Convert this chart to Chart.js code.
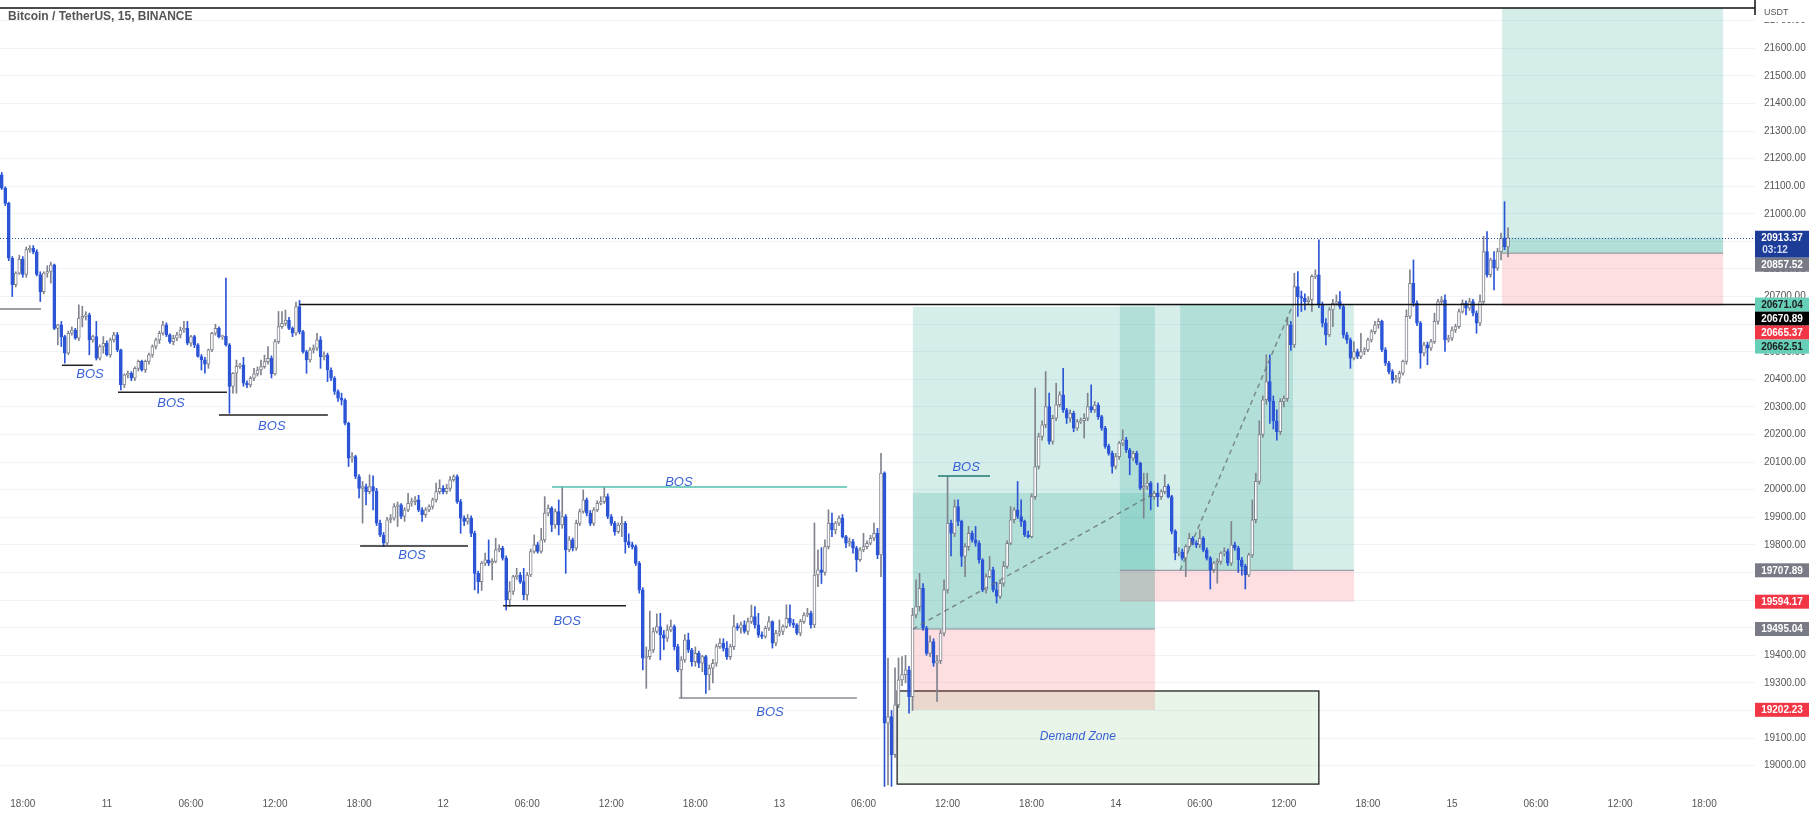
<!DOCTYPE html>
<html>
<head>
<meta charset="utf-8">
<title>BTCUSDT 15</title>
<script src="https://cdn.jsdelivr.net/npm/chart.js"></script>
<style>
  html, body { margin: 0; padding: 0; background: #fff; }
  #wrap { width: 1814px; height: 818px; }
</style>
</head>
<body>
<div id="wrap"><canvas id="chart" width="1814" height="818"></canvas></div>
<script>
// 15 minute candles, first one is Oct 10 16:30
const opens = [
21141,21093,21038,20839,20743,20785,20835,20780,20870,20875,
20862,20780,20718,20785,20791,20815,20585,20598,20555,20495,
20567,20579,20549,20622,20628,20634,20543,20555,20477,20519,
20531,20489,20543,20561,20507,20380,20416,20422,20404,20440,
20465,20434,20465,20489,20519,20543,20567,20598,20561,20537,
20549,20561,20579,20585,20531,20555,20525,20483,20471,20455,
20507,20567,20585,20555,20557,20525,20374,20422,20447,20453,
20386,20380,20404,20420,20434,20446,20464,20476,20420,20537,
20591,20603,20615,20585,20567,20664,20573,20500,20470,20507,
20513,20543,20482,20488,20434,20404,20356,20332,20325,20241,
20114,20120,20048,20005,20011,19993,20011,19995,19879,19836,
19806,19891,19897,19939,19945,19903,19927,19951,19957,19963,
19927,19910,19927,19939,19963,19993,20005,19993,20005,20036,
20048,19957,19897,19885,19897,19842,19697,19667,19734,19746,
19734,19740,19782,19788,19752,19601,19631,19685,19690,19667,
19619,19691,19776,19800,19776,19818,19915,19933,19872,19921,
19872,19903,19782,19818,19788,19878,19921,19963,19915,19878,
19927,19951,19957,19975,19903,19878,19848,19872,19878,19812,
19800,19794,19733,19637,19389,19395,19419,19486,19504,19474,
19462,19492,19504,19431,19347,19383,19456,19419,19377,19407,
19371,19395,19329,19353,19371,19431,19444,19425,19395,19431,
19504,19498,19510,19486,19522,19540,19510,19474,19468,19498,
19522,19444,19480,19486,19504,19534,19516,19510,19480,19522,
19546,19552,19510,19691,19710,19700,19794,19879,19854,19879,
19897,19830,19806,19812,19788,19746,19782,19794,19806,19824,
19842,19764,20060,19154,19178,19040,19220,19311,19330,19347,
19250,19546,19576,19643,19498,19407,19450,19371,19380,19480,
19637,19879,19842,19939,19885,19758,19794,19842,19818,19806,
19746,19637,19685,19710,19637,19613,19661,19722,19806,19891,
19927,19903,19885,19836,19830,19975,20084,20193,20235,20301,
20175,20259,20308,20344,20289,20259,20277,20223,20247,20250,
20259,20301,20289,20307,20265,20223,20157,20132,20084,20120,
20169,20181,20144,20114,20132,20096,20006,20012,20024,19975,
19987,19975,19993,20012,19975,19849,19770,19775,19752,19794,
19824,19806,19800,19824,19782,19752,19710,19734,19740,19770,
19776,19734,19800,19788,19746,19722,19691,19764,19891,20030,
20200,20326,20392,20320,20250,20210,20320,20330,20598,20525,
20736,20700,20694,20682,20688,20773,20779,20670,20604,20561,
20652,20676,20682,20664,20561,20543,20477,20501,20483,20501,
20507,20543,20573,20598,20610,20507,20459,20428,20398,20404,
20422,20465,20628,20748,20676,20604,20495,20525,20513,20537,
20610,20682,20688,20543,20549,20579,20591,20646,20676,20658,
20682,20640,20604,20682,20863,20779,20833,20803,20863,20912,
20880];
const highs = [
21150,21098,21042,20845,20790,20850,20845,20880,20885,20885,
20870,20790,20790,20812,20825,20818,20600,20610,20560,20575,
20590,20585,20670,20665,20645,20640,20560,20610,20525,20555,
20540,20550,20570,20570,20510,20420,20430,20428,20445,20470,
20470,20470,20495,20525,20550,20575,20610,20605,20565,20560,
20570,20590,20610,20610,20560,20560,20530,20490,20480,20510,
20570,20600,20590,20560,20767,20530,20425,20470,20458,20480,
20395,20410,20440,20445,20470,20488,20519,20485,20545,20646,
20646,20651,20625,20590,20680,20686,20578,20505,20515,20525,
20567,20555,20500,20495,20442,20410,20362,20350,20330,20245,
20135,20125,20055,20030,20020,20054,20050,20005,19890,19845,
19900,19910,19950,19955,19950,19935,19987,19970,19975,19980,
19935,19935,19945,19970,20024,20036,20015,20020,20048,20054,
20054,19965,19905,19910,19905,19850,19705,19740,19770,19818,
19750,19824,19800,19795,19760,19667,19690,19715,19700,19715,
19700,19785,19836,19810,19860,19975,19945,19939,19930,19963,
20011,19910,19830,19825,19890,19930,19999,19970,19925,19935,
19960,19975,20009,19985,19910,19885,19880,19903,19885,19840,
19810,19800,19740,19645,19430,19560,19500,19550,19552,19490,
19510,19528,19510,19440,19395,19475,19480,19425,19430,19415,
19400,19400,19365,19385,19440,19460,19460,19450,19440,19546,
19515,19520,19525,19535,19582,19576,19552,19485,19505,19540,
19525,19490,19528,19510,19583,19583,19530,19515,19530,19555,
19570,19560,19879,19782,19790,19818,19927,19915,19885,19905,
19910,19835,19825,19820,19795,19790,19842,19815,19835,19879,
19860,20132,20065,19390,19200,19354,19390,19395,19400,19360,
19570,19673,19697,19660,19505,19470,19460,19400,19490,19673,
20048,19890,19963,19963,19890,19805,19867,19850,19867,19815,
19750,19695,19758,19720,19665,19670,19740,19815,19939,19935,
20030,19963,19890,19850,19985,20368,20205,20250,20428,20350,
20270,20386,20355,20440,20295,20290,20285,20255,20260,20275,
20350,20380,20320,20315,20270,20230,20165,20140,20132,20175,
20217,20190,20150,20140,20140,20100,20060,20060,20030,19995,
20024,20000,20054,20020,19980,19855,19790,19785,19800,19842,
19830,19815,19855,19830,19790,19758,19740,19750,19775,19790,
19785,19885,19810,19795,19755,19730,19770,19963,20060,20250,
20340,20489,20489,20340,20290,20330,20340,20625,20610,20785,
20791,20720,20710,20700,20779,20797,20906,20680,20620,20660,
20690,20706,20718,20670,20570,20550,20537,20510,20567,20515,
20550,20580,20610,20620,20615,20515,20465,20435,20415,20430,
20470,20652,20797,20833,20685,20610,20535,20535,20545,20640,
20690,20700,20706,20560,20590,20600,20655,20688,20685,20694,
20690,20648,20706,20918,20936,20840,20863,20875,20930,21044,
20949];
const lows = [
21088,21030,20830,20700,20735,20780,20770,20770,20860,20855,
20775,20682,20710,20770,20749,20580,20525,20519,20459,20490,
20560,20545,20540,20590,20615,20489,20535,20470,20470,20495,
20485,20480,20535,20500,20362,20370,20405,20395,20395,20430,
20430,20425,20455,20480,20510,20530,20560,20555,20530,20525,
20540,20550,20570,20525,20520,20515,20480,20434,20422,20440,
20500,20560,20550,20545,20520,20277,20350,20350,20440,20375,
20370,20372,20395,20412,20416,20440,20455,20405,20415,20530,
20585,20595,20580,20555,20560,20565,20495,20422,20462,20495,
20505,20440,20470,20392,20395,20345,20320,20307,20235,20084,
20100,20040,19970,19879,19945,19985,19927,19870,19830,19794,
19800,19880,19890,19867,19895,19885,19920,19940,19945,19920,
19885,19900,19920,19930,19955,19985,19985,19985,19995,20030,
19950,19842,19870,19875,19830,19637,19625,19635,19725,19725,
19673,19735,19775,19745,19564,19576,19620,19675,19660,19601,
19600,19685,19770,19770,19770,19810,19905,19848,19860,19836,
19860,19697,19775,19778,19780,19870,19915,19905,19870,19870,
19920,19945,19950,19895,19870,19835,19842,19830,19770,19790,
19785,19725,19625,19347,19280,19385,19410,19480,19383,19420,
19450,19485,19419,19340,19244,19375,19410,19360,19360,19355,
19340,19262,19274,19300,19360,19425,19415,19385,19385,19420,
19490,19480,19480,19475,19515,19498,19465,19460,19462,19490,
19426,19435,19470,19475,19498,19505,19500,19475,19470,19515,
19540,19498,19500,19649,19660,19690,19785,19830,19840,19870,
19825,19790,19795,19770,19703,19740,19775,19785,19800,19815,
19750,19685,18925,18930,18925,19030,19210,19290,19300,19190,
19200,19535,19560,19490,19400,19395,19360,19233,19370,19470,
19625,19760,19830,19870,19722,19685,19780,19810,19795,19734,
19630,19625,19680,19630,19589,19605,19650,19715,19800,19880,
19895,19867,19830,19825,19825,19965,20075,20180,20225,20165,
20165,20250,20300,20280,20240,20245,20210,20215,20240,20187,
20250,20280,20280,20255,20215,20150,20125,20060,20075,20110,
20160,20135,20054,20105,20090,20000,19897,20000,19927,19965,
19939,19965,19985,19970,19840,19746,19760,19745,19685,19785,
19800,19790,19790,19775,19745,19640,19700,19661,19730,19760,
19725,19725,19780,19700,19690,19640,19685,19755,19880,20020,
20190,20310,20240,20220,20180,20200,20300,20320,20505,20515,
20628,20646,20652,20670,20646,20765,20660,20590,20525,20555,
20591,20670,20655,20550,20530,20440,20470,20475,20475,20490,
20500,20535,20565,20585,20500,20450,20420,20386,20390,20386,
20415,20455,20620,20665,20595,20440,20485,20453,20505,20530,
20600,20675,20501,20535,20540,20570,20585,20640,20634,20650,
20630,20567,20595,20675,20770,20770,20724,20795,20833,20870,
20844];
const closes = [
21093,21038,20839,20743,20785,20835,20780,20870,20875,20862,
20780,20718,20785,20791,20815,20585,20598,20555,20495,20567,
20579,20549,20622,20628,20634,20543,20555,20477,20519,20531,
20489,20543,20561,20507,20380,20416,20422,20404,20440,20465,
20434,20465,20489,20519,20543,20567,20598,20561,20537,20549,
20561,20579,20585,20531,20555,20525,20483,20471,20455,20507,
20567,20585,20555,20557,20525,20374,20422,20447,20453,20386,
20380,20404,20420,20434,20446,20464,20476,20420,20537,20591,
20603,20615,20585,20567,20664,20573,20500,20470,20507,20513,
20543,20482,20488,20434,20404,20356,20332,20325,20241,20114,
20120,20048,20005,20011,19993,20011,19995,19879,19836,19806,
19891,19897,19939,19945,19903,19927,19951,19957,19963,19927,
19910,19927,19939,19963,19993,20005,19993,20005,20036,20048,
19957,19897,19885,19897,19842,19697,19667,19734,19746,19734,
19740,19782,19788,19752,19601,19631,19685,19690,19667,19619,
19691,19776,19800,19776,19818,19915,19933,19872,19921,19872,
19903,19782,19818,19788,19878,19921,19963,19915,19878,19927,
19951,19957,19975,19903,19878,19848,19872,19878,19812,19800,
19794,19733,19637,19389,19395,19419,19486,19504,19474,19462,
19492,19504,19431,19347,19383,19456,19419,19377,19407,19371,
19395,19329,19353,19371,19431,19444,19425,19395,19431,19504,
19498,19510,19486,19522,19540,19510,19474,19468,19498,19522,
19444,19480,19486,19504,19534,19516,19510,19480,19522,19546,
19552,19510,19691,19710,19700,19794,19879,19854,19879,19897,
19830,19806,19812,19788,19746,19782,19794,19806,19824,19842,
19764,20060,19154,19178,19040,19220,19311,19330,19347,19250,
19546,19576,19643,19498,19407,19450,19371,19380,19480,19637,
19879,19842,19939,19885,19758,19794,19842,19818,19806,19746,
19637,19685,19710,19637,19613,19661,19722,19806,19891,19927,
19903,19885,19836,19830,19975,20084,20193,20235,20301,20175,
20259,20308,20344,20289,20259,20277,20223,20247,20250,20259,
20301,20289,20307,20265,20223,20157,20132,20084,20120,20169,
20181,20144,20114,20132,20096,20006,20012,20024,19975,19987,
19975,19993,20012,19975,19849,19770,19775,19752,19794,19824,
19806,19800,19824,19782,19752,19710,19734,19740,19770,19776,
19734,19800,19788,19746,19722,19691,19764,19891,20030,20200,
20326,20392,20320,20250,20210,20320,20330,20598,20525,20736,
20700,20694,20682,20688,20773,20779,20670,20604,20561,20652,
20676,20682,20664,20561,20543,20477,20501,20483,20501,20507,
20543,20573,20598,20610,20507,20459,20428,20398,20404,20422,
20465,20628,20748,20676,20604,20495,20525,20513,20537,20610,
20682,20688,20543,20549,20579,20591,20646,20676,20658,20682,
20640,20604,20682,20863,20779,20833,20803,20863,20912,20880,
20913.37];

// time axis: candle index of each label and its text
const timeTickIdx = [6, 30, 54, 78, 102, 126, 150, 174, 198, 222, 246, 270, 294, 318, 342, 366, 390, 414, 438, 462, 486];
const timeTickLabels = ['18:00', '11', '06:00', '12:00', '18:00', '12', '06:00', '12:00', '18:00', '13', '06:00',
  '12:00', '18:00', '14', '06:00', '12:00', '18:00', '15', '06:00', '12:00', '18:00'];
const priceTicks = [19000, 19100, 19200, 19300, 19400, 19500, 19600, 19700, 19800, 19900, 20000, 20100, 20200, 20300,
  20400, 20500, 20600, 20700, 20800, 20900, 21000, 21100, 21200, 21300, 21400, 21500, 21600, 21700];

// BOS lines (candle index from/to, price) and their labels
const bosFrom = [-0.5, 17.2, 33.2, 62.0, 102.3, 143.1, 157.1, 193.3, 267.3];
const bosTo = [11.2, 26.0, 64.3, 93.1, 133.1, 178.2, 241.3, 244.1, 282.1];
const bosPrice = [20655, 20451, 20353, 20271, 19796, 19579, 20010, 19245, 20050];
const bosTextAt = [25.2, 48.3, 77.1, 117.1, 161.4, 193.3, 219.3, 275.3];
const bosTextPrice = [20419, 20314, 20231, 19763, 19524, 20028, 19194, 20082];

// horizontal level drawn from candle 85 to the right edge, and the line at the top
const levelPrice = 20670.89;
const levelFrom = 85.1;
const topLinePrice = 21746;

// demand zone
const demandFrom = 255.6, demandTo = 376, demandTop = 19270.5, demandBottom = 18933;

// long position tools
const posFrom = [260.1, 319.2, 428.3];
const posTo = [329.2, 386.0, 491.4];
const posEntry = [19495.04, 19707.89, 20857.52];
const posStop = [19202.23, 19594.17, 20665.37];
const posTarget = [20662.51, 20671.04, 21746];
const posFillFrom = [260.1, 336.4, 428.3];
const posFillTo = [329.2, 368.6, 491.4];
const posFillPrice = [19988, 20671.04, 20913.37];

// price scale labels
const badgePrices = [20913.37, 20857.52, 20671.04, 20670.89, 20665.37, 20662.51, 19707.89, 19594.17, 19495.04, 19202.23];
const badgeKinds = ['last', 'gray', 'teal', 'black', 'red', 'teal', 'gray', 'red', 'gray', 'red'];
const countdown = '03:12';

const BLUE = '#2c55d6';
const GRAY = '#80838d';
const TXT = '#3a62d6';
const idx = closes.map((c, i) => i);
const up = idx.map(i => closes[i] >= opens[i]);

const bosColors = ['#7c7f88', '#222', '#222', '#222', '#222', '#222', '#4fc0ae', '#8a8d95', '#1f7a70'];
const badgeStyle = {
  last: ['#1d3c98', '#fff'], gray: ['#787b86', '#fff'], teal: ['#66cfb7', '#1c1c1c'],
  black: ['#000', '#fff'], red: ['#f23645', '#fff']
};

// keep the plot area flush with the canvas edges
const noPad = s => { s.paddingTop = 0; s.paddingBottom = 0; s.paddingLeft = 0; s.paddingRight = 0; };

const overlay = {
  id: 'overlay',
  beforeDatasetsDraw(chart) {
    const { ctx, chartArea: a, scales: { x, y } } = chart;
    const X = v => x.getPixelForValue(v), Y = v => y.getPixelForValue(v);
    const box = (x0, p0, x1, p1, color) => {
      const ya = Y(p0), yb = Y(p1);
      ctx.fillStyle = color;
      ctx.fillRect(X(x0), Math.min(ya, yb), X(x1) - X(x0), Math.abs(yb - ya));
    };
    ctx.save();
    ctx.beginPath();
    ctx.rect(a.left, a.top, a.right - a.left, a.bottom - a.top);
    ctx.clip();

    // demand zone
    box(demandFrom, demandTop, demandTo, demandBottom, 'rgba(76,175,80,0.13)');
    ctx.strokeStyle = '#111';
    ctx.lineWidth = 1.2;
    ctx.strokeRect(X(demandFrom), Y(demandTop), X(demandTo) - X(demandFrom), Y(demandBottom) - Y(demandTop));
    ctx.fillStyle = TXT;
    ctx.font = 'italic 12px "Liberation Sans", Arial, sans-serif';
    ctx.textAlign = 'center';
    ctx.textBaseline = 'middle';
    ctx.fillText('Demand Zone', X(307.2), Y(19104));

    // position tools
    for (let k = 0; k < posFrom.length; k++) {
      box(posFrom[k], posTarget[k], posTo[k], posEntry[k], 'rgba(8,153,129,0.17)');
      box(posFrom[k], posEntry[k], posTo[k], posStop[k], 'rgba(242,54,69,0.16)');
      box(posFillFrom[k], posFillPrice[k], posFillTo[k], posEntry[k], 'rgba(8,153,129,0.17)');
      ctx.strokeStyle = '#8a8d96';
      ctx.lineWidth = 1;
      ctx.beginPath();
      ctx.moveTo(X(posFrom[k]), Y(posEntry[k]));
      ctx.lineTo(X(posTo[k]), Y(posEntry[k]));
      ctx.stroke();
    }
    ctx.restore();
  },
  afterDatasetsDraw(chart) {
    const { ctx, chartArea: a, scales: { x, y } } = chart;
    const X = v => x.getPixelForValue(v), Y = v => y.getPixelForValue(v);
    ctx.save();
    ctx.beginPath();
    ctx.rect(a.left, a.top, a.right - a.left, a.bottom - a.top);
    ctx.clip();

    // dashed trade paths of the first two positions
    ctx.strokeStyle = 'rgba(100,110,120,0.75)';
    ctx.lineWidth = 1.5;
    ctx.setLineDash([5, 4]);
    for (let k = 0; k < 2; k++) {
      ctx.beginPath();
      ctx.moveTo(X(posFillFrom[k]), Y(posEntry[k]));
      ctx.lineTo(X(posFillTo[k]), Y(posFillPrice[k]));
      ctx.stroke();
    }
    ctx.setLineDash([]);

    // BOS lines and labels
    bosFrom.forEach((f, k) => {
      ctx.strokeStyle = bosColors[k];
      ctx.lineWidth = 1.5;
      ctx.beginPath();
      ctx.moveTo(X(f), Y(bosPrice[k]));
      ctx.lineTo(X(bosTo[k]), Y(bosPrice[k]));
      ctx.stroke();
    });
    ctx.fillStyle = TXT;
    ctx.font = 'italic 13px "Liberation Sans Narrow", "Liberation Sans", Arial, sans-serif';
    ctx.textAlign = 'center';
    ctx.textBaseline = 'middle';
    bosTextAt.forEach((t, k) => ctx.fillText('BOS', X(t), Y(bosTextPrice[k])));

    // horizontal level
    ctx.strokeStyle = '#111';
    ctx.lineWidth = 1.5;
    ctx.beginPath();
    ctx.moveTo(X(levelFrom), Y(levelPrice));
    ctx.lineTo(a.right, Y(levelPrice));
    ctx.stroke();

    // last price line
    const last = closes[closes.length - 1];
    ctx.strokeStyle = '#2848a8';
    ctx.lineWidth = 1;
    ctx.setLineDash([1, 2]);
    ctx.beginPath();
    ctx.moveTo(a.left, Math.round(Y(last)) + 0.5);
    ctx.lineTo(a.right, Math.round(Y(last)) + 0.5);
    ctx.stroke();
    ctx.setLineDash([]);
    ctx.restore();
  },
  afterDraw(chart) {
    const { ctx, chartArea: a, scales: { y } } = chart;
    const Y = v => y.getPixelForValue(v);
    ctx.save();

    // price scale header
    ctx.fillStyle = '#fff';
    ctx.fillRect(a.right + 1, 0, chart.width - a.right, 22);
    ctx.fillStyle = '#555';
    ctx.font = '9px "Liberation Sans", Arial, sans-serif';
    ctx.textAlign = 'left';
    ctx.textBaseline = 'middle';
    ctx.fillText('USDT', a.right + 9, 13);

    // line at the top
    ctx.strokeStyle = '#111';
    ctx.lineWidth = 1.5;
    ctx.beginPath();
    ctx.moveTo(0, Y(topLinePrice));
    ctx.lineTo(a.right, Y(topLinePrice));
    ctx.moveTo(a.right, 0);
    ctx.lineTo(a.right, 15);
    ctx.stroke();

    // title
    ctx.fillStyle = '#555';
    ctx.font = 'bold 12px "Liberation Sans", Arial, sans-serif';
    ctx.fillText('Bitcoin / TetherUS, 15, BINANCE', 8, 17);

    // price badges, pushed down when they overlap
    let bottom = -Infinity;
    ctx.textAlign = 'center';
    badgePrices.forEach((p, k) => {
      const [bg, fg] = badgeStyle[badgeKinds[k]];
      const h = badgeKinds[k] === 'last' ? 27 : 14;
      let top = Y(p) - 7;
      if (top < bottom) top = bottom;
      ctx.fillStyle = bg;
      ctx.fillRect(a.right, top, 54, h);
      ctx.fillStyle = fg;
      ctx.font = 'bold 10px "Liberation Sans", Arial, sans-serif';
      ctx.fillText(p.toFixed(2), a.right + 27, top + 7.5);
      if (badgeKinds[k] === 'last') {
        ctx.fillStyle = '#d6def8';
        ctx.fillText(countdown, a.right + 20, top + 20);
      }
      bottom = top + h;
    });
    ctx.restore();
  }
};

new Chart(document.getElementById('chart'), {
  type: 'bar',
  data: {
    datasets: [
      {
        label: 'body',
        data: idx.map(i => ({ x: i, y: [opens[i], closes[i]] })),
        backgroundColor: idx.map(i => up[i] ? '#ffffff' : BLUE),
        borderColor: idx.map(i => up[i] ? GRAY : BLUE),
        borderWidth: 1,
        borderSkipped: false,
        barThickness: 3,
        minBarLength: 1,
        grouped: false,
        order: 0
      },
      {
        label: 'wick',
        data: idx.map(i => ({ x: i, y: [lows[i], highs[i]] })),
        backgroundColor: idx.map(i => up[i] ? GRAY : BLUE),
        barThickness: 1,
        grouped: false,
        order: 1
      }
    ]
  },
  options: {
    responsive: false,
    devicePixelRatio: 1,
    animation: false,
    layout: { padding: 0, autoPadding: false },
    plugins: { legend: { display: false }, tooltip: { enabled: false } },
    scales: {
      x: {
        type: 'linear',
        offset: false,
        min: -0.5,
        max: 500.5,
        grid: { display: false, drawTicks: false },
        border: { display: false },
        afterBuildTicks: s => { s.ticks = timeTickIdx.map(v => ({ value: v })); },
        afterFit: s => { s.height = 28; noPad(s); },
        ticks: {
          autoSkip: false,
          maxRotation: 0,
          padding: 8,
          color: '#555',
          font: { size: 10, family: '"Liberation Sans", Arial, sans-serif' },
          callback: (v, i) => timeTickLabels[i]
        }
      },
      y: {
        position: 'right',
        min: 18911.6,
        max: 21775,
        grid: { color: '#f0f3fa', drawTicks: false },
        border: { display: false },
        afterBuildTicks: s => { s.ticks = priceTicks.map(v => ({ value: v })); },
        afterFit: s => { s.width = 59; noPad(s); },
        ticks: {
          padding: 9,
          color: '#555',
          font: { size: 10, family: '"Liberation Sans", Arial, sans-serif' },
          callback: v => Number(v).toFixed(2)
        }
      }
    }
  },
  plugins: [overlay]
});
</script>
</body>
</html>
